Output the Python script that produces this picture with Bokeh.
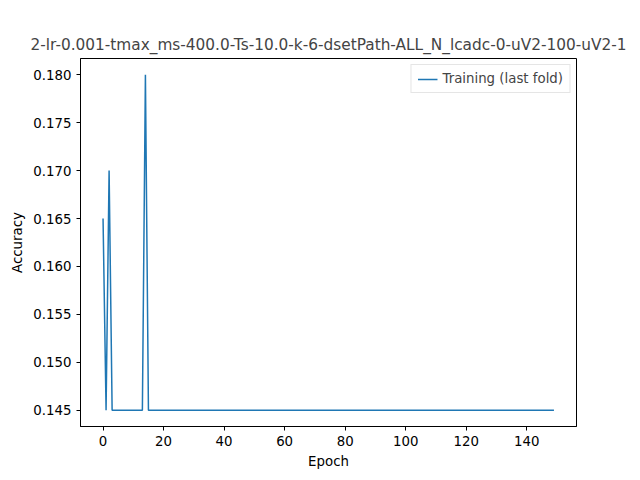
from bokeh.plotting import figure
from bokeh.models import Range1d, FixedTicker, Legend, LegendItem, NumeralTickFormatter
from bokeh.embed import file_html
from bokeh.resources import INLINE

epochs = list(range(150))
accuracy = [0.165, 0.145, 0.170] + [0.145] * 11 + [0.180] + [0.145] * 135

title = "2-lr-0.001-tmax_ms-400.0-Ts-10.0-k-6-dsetPath-ALL_N_lcadc-0-uV2-100-uV2-1"

p = figure(width=632, height=472, output_backend="svg", toolbar_location=None,
           x_range=Range1d(-7.45, 156.45), y_range=Range1d(0.1433, 0.1817),
           min_border_left=80, min_border_right=56, min_border_top=58, min_border_bottom=46)
p.title.text = title
p.title.align = "center"
p.title.text_font = "DejaVu Sans"
p.title.text_font_size = "11.5pt"
p.title.text_font_style = "normal"

r = p.line(epochs, accuracy, line_color="#1f77b4", line_width=1.5)

p.xaxis.axis_label = "Epoch"
p.yaxis.axis_label = "Accuracy"
p.xaxis.ticker = FixedTicker(ticks=[0, 20, 40, 60, 80, 100, 120, 140])
p.yaxis.ticker = FixedTicker(ticks=[0.145, 0.150, 0.155, 0.160, 0.165, 0.170, 0.175, 0.180])
p.yaxis.formatter = NumeralTickFormatter(format="0.000")
for ax in (p.xaxis, p.yaxis):
    ax.axis_label_text_font = "DejaVu Sans"
    ax.axis_label_text_font_style = "normal"
    ax.axis_label_text_font_size = "10pt"
    ax.major_label_text_font = "DejaVu Sans"
    ax.major_label_text_font_size = "10pt"
    ax.major_label_text_color = "black"
    ax.axis_label_text_color = "black"
    ax.minor_tick_line_color = None
    ax.major_tick_in = 0
    ax.major_tick_out = 4
    ax.axis_line_color = "black"
p.grid.visible = False
p.outline_line_color = "black"

legend = Legend(items=[LegendItem(label="Training (last fold)", renderers=[r])],
                location="top_right", label_text_font="DejaVu Sans",
                label_text_font_size="10pt", border_line_color="#cccccc",
                glyph_height=10, label_height=10, padding=6, margin=6)
p.add_layout(legend)

open("out.html", "w").write(file_html(p, INLINE))
